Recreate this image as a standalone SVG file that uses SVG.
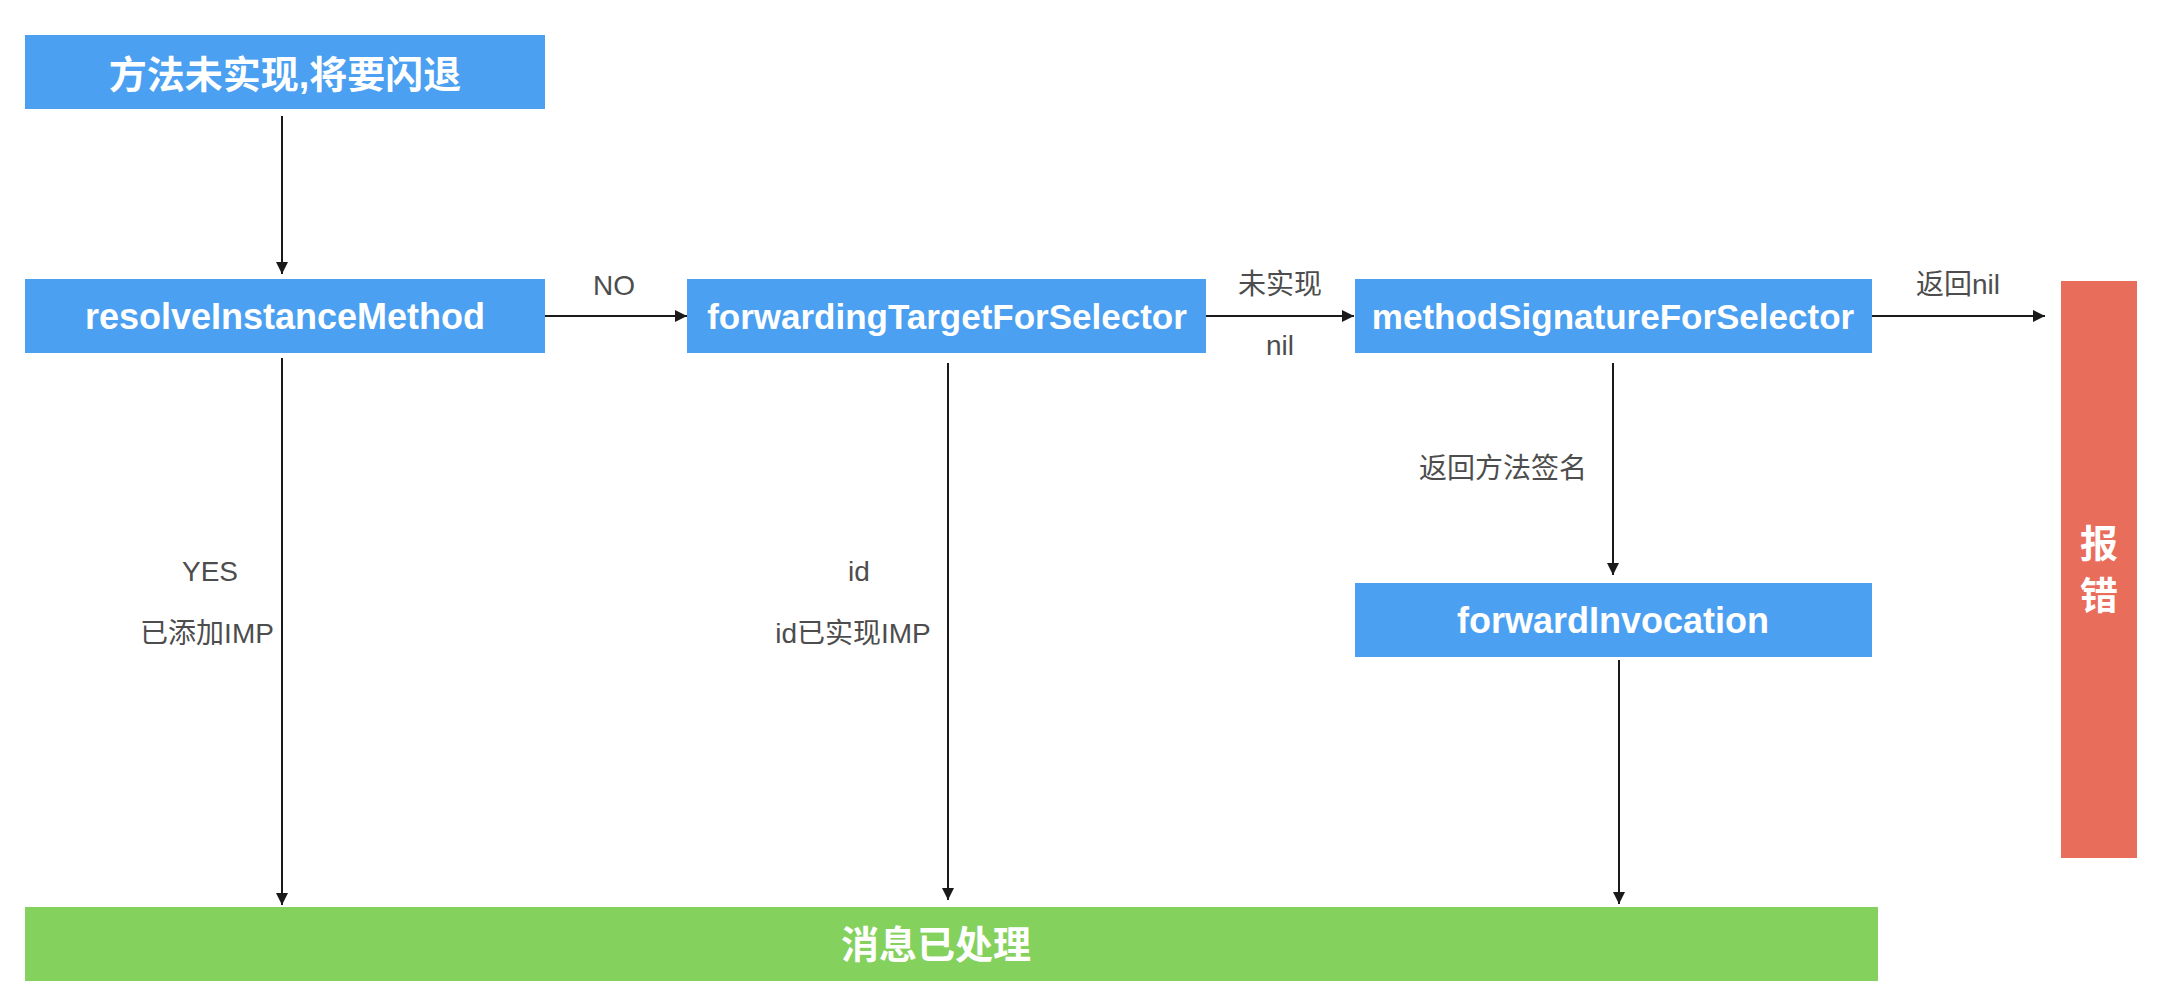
<svg xmlns="http://www.w3.org/2000/svg" width="2158" height="1004" viewBox="0 0 2158 1004">
<defs>
<style>
.blue{fill:#4BA0F2}
.green{fill:#85D15D}
.red{fill:#E96D5B}
.nt{font-family:"Liberation Sans","Noto Sans CJK SC",sans-serif;font-weight:bold;fill:#ffffff;text-anchor:middle}
.lb{font-family:"Liberation Sans","Noto Sans CJK SC",sans-serif;font-size:28px;fill:#4d4d4d;text-anchor:middle}
.ln{stroke:#1a1a1a;stroke-width:2;fill:none;marker-end:url(#ah)}
</style>
<marker id="ah" markerUnits="userSpaceOnUse" markerWidth="14" markerHeight="12" refX="12" refY="6" orient="auto">
<path d="M0,0 L12,6 L0,12 Z" fill="#1a1a1a"/>
</marker>
</defs>
<rect width="2158" height="1004" fill="#ffffff"/>
<g id="start">
<rect class="blue" x="25" y="35" width="520" height="74"/>
<text class="nt" x="285" y="88" font-size="38">方法未实现,将要闪退</text>
</g>
<g id="resolve">
<rect class="blue" x="25" y="279" width="520" height="74"/>
<text class="nt" x="285" y="329" font-size="36">resolveInstanceMethod</text>
</g>
<g id="forwarding">
<rect class="blue" x="687" y="279" width="519" height="74"/>
<text class="nt" x="947" y="329" font-size="35">forwardingTargetForSelector</text>
</g>
<g id="methodsig">
<rect class="blue" x="1355" y="279" width="517" height="74"/>
<text class="nt" x="1613" y="329" font-size="35">methodSignatureForSelector</text>
</g>
<g id="invocation">
<rect class="blue" x="1355" y="583" width="517" height="74"/>
<text class="nt" x="1613" y="633" font-size="36">forwardInvocation</text>
</g>
<g id="error">
<rect class="red" x="2061" y="281" width="76" height="577"/>
<text class="nt" x="2099" y="557" font-size="38">报</text>
<text class="nt" x="2099" y="609" font-size="38">错</text>
</g>
<g id="handled">
<rect class="green" x="25" y="907" width="1853" height="74"/>
<text class="nt" x="936" y="958" font-size="38">消息已处理</text>
</g>
<g id="connectors">
<line class="ln" x1="282" y1="116" x2="282" y2="274"/>
<line class="ln" x1="545" y1="316" x2="687" y2="316"/>
<line class="ln" x1="1206" y1="316" x2="1354" y2="316"/>
<line class="ln" x1="1872" y1="316" x2="2045" y2="316"/>
<line class="ln" x1="282" y1="358" x2="282" y2="905"/>
<line class="ln" x1="948" y1="363" x2="948" y2="900"/>
<line class="ln" x1="1613" y1="363" x2="1613" y2="575"/>
<line class="ln" x1="1619" y1="660" x2="1619" y2="904"/>
<text class="lb" x="614" y="295">NO</text>
<text class="lb" x="1280" y="294">未实现</text>
<text class="lb" x="1280" y="355">nil</text>
<text class="lb" x="1958" y="294">返回nil</text>
<text class="lb" x="1503" y="478">返回方法签名</text>
<text class="lb" x="210" y="581">YES</text>
<text class="lb" x="207" y="643">已添加IMP</text>
<text class="lb" x="859" y="581">id</text>
<text class="lb" x="853" y="643">id已实现IMP</text>
</g>
</svg>
